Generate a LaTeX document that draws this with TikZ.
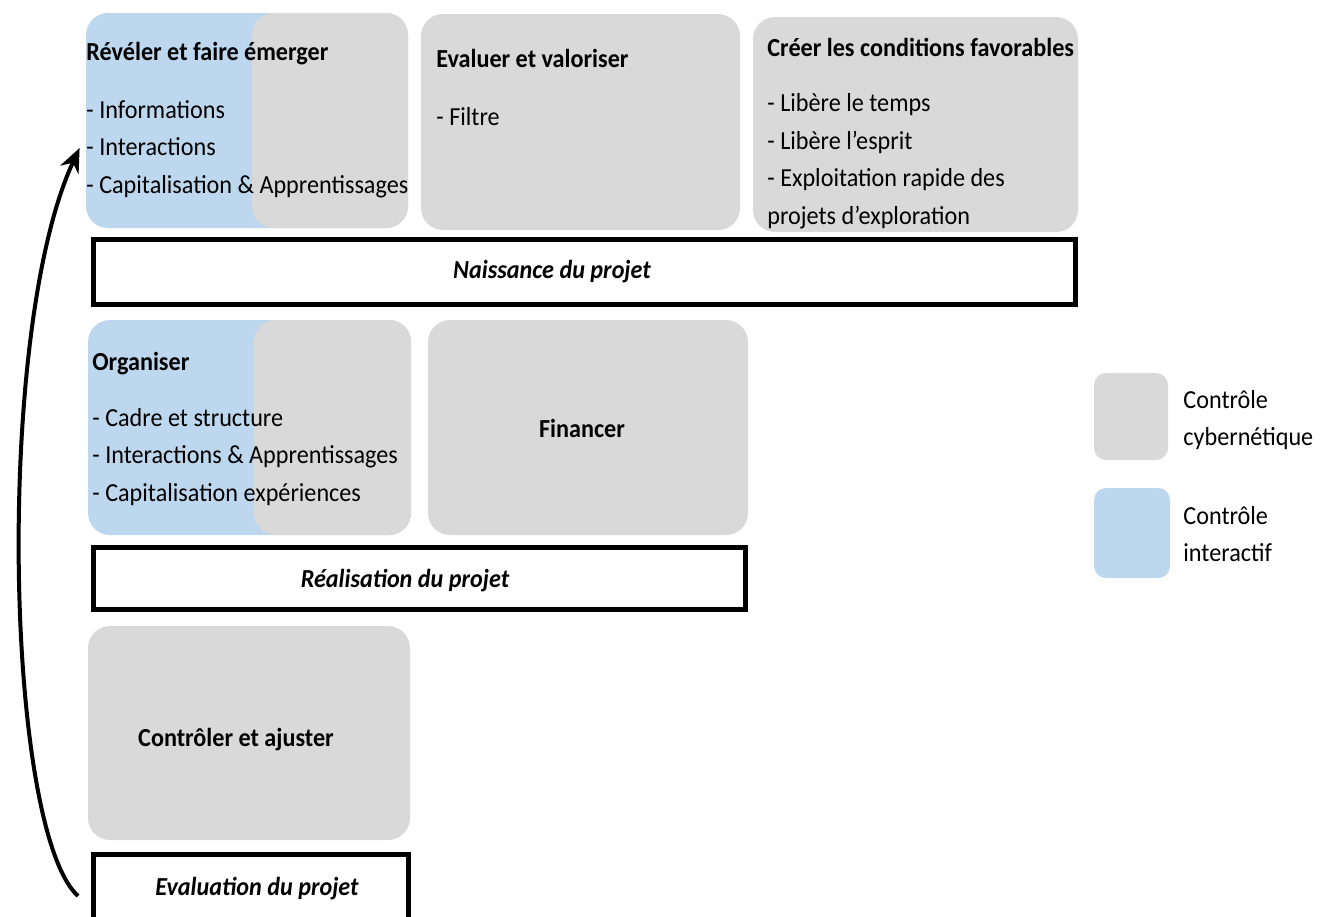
\documentclass[tikz,border=0pt]{standalone}
\usepackage{fontspec}
\setmainfont[FakeStretch=0.93]{Carlito}
\usetikzlibrary{arrows.meta}
\definecolor{ctrlgrey}{RGB}{217,217,217}
\definecolor{ctrlblue}{RGB}{189,215,238}
\newcommand{\boxfont}{\fontsize{13}{18.75}\selectfont}

\begin{document}
\begin{tikzpicture}[x=0.5pt, y=-0.5pt, >=Stealth, font=\boxfont,
  cyber/.style={fill=ctrlgrey, rounded corners=11pt, inner sep=0pt},
  mixed/.style={fill=ctrlblue, rounded corners=11pt, inner sep=0pt,
    path picture={\fill[ctrlgrey, rounded corners=11pt]
      ([xshift=83pt]path picture bounding box.north west) rectangle
      ([xshift=20pt]path picture bounding box.south east);}},
  phase/.style={draw, line width=2.5pt, inner sep=0pt},
  phasetxt/.style={inner sep=0pt, font=\boxfont\bfseries\itshape},
  txt/.style={inner sep=0pt, align=left, anchor=base west},
  lbl/.style={inner sep=0pt, font=\boxfont\bfseries}]
  \useasboundingbox (0,0) rectangle (1327,916);

  % top row (text nodes sit on the baseline of their last line)
  \node[mixed, minimum width=161pt, minimum height=107.5pt] (reveler) at (247,120.5) {};
  \node[cyber, minimum width=159.5pt, minimum height=108pt] (evaluer) at (580.5,122) {};
  \node[cyber, minimum width=162.5pt, minimum height=107.5pt] (creer) at (915.5,124.5) {};
  \node[txt] (revelertxt) at (86,193) {\textbf{Révéler et faire émerger}\\[10pt]
    - Informations\\ - Interactions\\ - Capitalisation \& Apprentissages};
  \node[txt] (evaluertxt) at (436,125) {\textbf{Evaluer et valoriser}\\[10pt] - Filtre};
  \node[txt] (creertxt) at (767,224) {\textbf{Créer les conditions favorables}\\[9pt]
    - Libère le temps\\ - Libère l’esprit\\ - Exploitation rapide des\\ projets d’exploration};
  \node[phase, minimum width=491pt, minimum height=32.5pt] (naissance) at (584.5,272) {};
  \node[phasetxt] (naissancetxt) at (552,272) {Naissance du projet};

  % middle row
  \node[mixed, minimum width=161.5pt, minimum height=107.5pt] (organiser) at (249.5,427.5) {};
  \node[cyber, minimum width=160pt, minimum height=107.5pt] (financer) at (588,427.5) {};
  \node[txt] (organisertxt) at (92,501) {\textbf{Organiser}\\[9pt]
    - Cadre et structure\\ - Interactions \& Apprentissages\\ - Capitalisation expériences};
  \node[lbl] (financertxt) at (582,428) {Financer};
  \node[phase, minimum width=326pt, minimum height=31pt] (realisation) at (419.5,578.5) {};
  \node[phasetxt] (realisationtxt) at (405,581) {Réalisation du projet};

  % bottom row
  \node[cyber, minimum width=161pt, minimum height=107pt] (controler) at (249,733) {};
  \node[lbl] (controlertxt) at (236,740) {Contrôler et ajuster};
  \node[phase, minimum width=157.5pt, minimum height=32.5pt] (evaluation) at (251,887) {};
  \node[phasetxt] (evaluationtxt) at (257,889) {Evaluation du projet};

  % loop back
  \draw[line width=2pt, -{Stealth[length=12pt, width=10pt]}]
    ([xshift=-6.5pt, yshift=-4.5pt]evaluation.west)
    .. controls +(-73,-67) and +(-85,182) .. ([xshift=-3pt, yshift=-13.75pt]reveler.west);

  % legend
  \node[fill=ctrlgrey, rounded corners=6pt, minimum width=37pt, minimum height=43.5pt] (legcyber) at (1131,416.5) {};
  \node[fill=ctrlblue, rounded corners=6pt, minimum width=38pt, minimum height=45pt] (leginter) at (1132,533) {};
  \node[inner sep=0pt, align=left, anchor=west] (legcybertxt) at (1183,420) {Contrôle\\cybernétique};
  \node[inner sep=0pt, align=left, anchor=west] (legintertxt) at (1183,534) {Contrôle\\interactif};
\end{tikzpicture}
\end{document}
